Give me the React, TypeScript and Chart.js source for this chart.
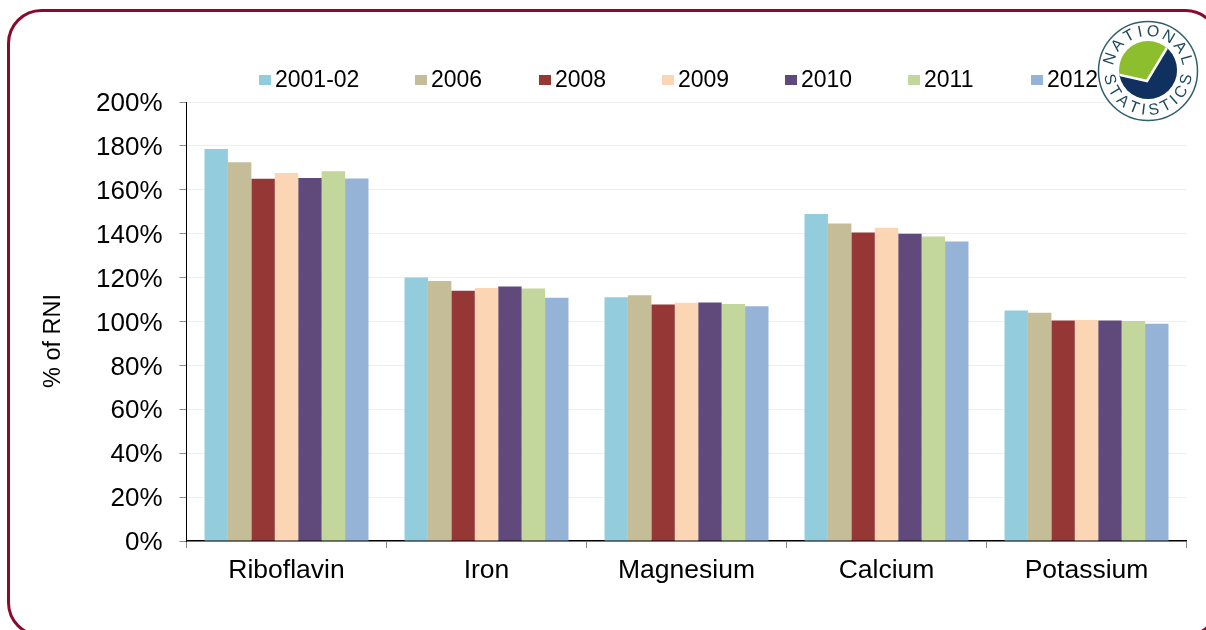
import React, { useEffect, useRef } from "react";
import { Chart, registerables } from "chart.js";

Chart.register(...registerables);

const categories = ["Riboflavin", "Iron", "Magnesium", "Calcium", "Potassium"];
const y2001 = [178.6, 120, 111, 149, 105];
const y2006 = [172.6, 118.5, 112, 144.7, 104];
const y2008 = [165, 114, 107.7, 140.5, 100.5];
const y2009 = [167.7, 115.3, 108.5, 142.7, 100.7];
const y2010 = [165.4, 116, 108.7, 140, 100.5];
const y2011 = [168.5, 115, 108, 138.7, 100.2];
const y2012 = [165.2, 110.8, 107, 136.5, 99];
const seriesLabels = ["2001-02", "2006", "2008", "2009", "2010", "2011", "2012"];
const seriesColors = ["#93CDDD", "#C4BD97", "#953735", "#FCD5B5", "#604A7B", "#C3D69B", "#95B3D7"];
const seriesValues = [y2001, y2006, y2008, y2009, y2010, y2011, y2012];
const legendX = [259, 415, 539, 662, 785, 908, 1031];
const FONT = '"Liberation Sans", Arial, sans-serif';

function arcText(ctx: CanvasRenderingContext2D, text: string, cx: number, cy: number, r: number, mid: number, gap: number, top: boolean) {
  const widths = Array.from(text).map((c) => ctx.measureText(c).width);
  const total = widths.reduce((a, b) => a + b, 0) + gap * (text.length - 1);
  let pos = -total / 2;
  Array.from(text).forEach((c, i) => {
    const off = (pos + widths[i] / 2) / r;
    const a = top ? mid + off : mid - off;
    ctx.save();
    ctx.translate(cx + r * Math.cos(a), cy + r * Math.sin(a));
    ctx.rotate(top ? a + Math.PI / 2 : a - Math.PI / 2);
    ctx.fillText(c, 0, 0);
    ctx.restore();
    pos += widths[i] + gap;
  });
}

const decor = {
  id: "decor",
  beforeDraw(chart: any) {
    const ctx: CanvasRenderingContext2D = chart.ctx;
    ctx.save();
    ctx.fillStyle = "#fff";
    ctx.fillRect(0, 0, chart.width, chart.height);
    ctx.strokeStyle = "#8A0A2E";
    ctx.lineWidth = 3;
    ctx.beginPath();
    ctx.roundRect(8.5, 10.5, 1210, 625, 33);
    ctx.stroke();
    ctx.restore();
  },
  afterDraw(chart: any) {
    const ctx: CanvasRenderingContext2D = chart.ctx;
    ctx.save();
    // legend
    ctx.textBaseline = "middle";
    ctx.textAlign = "left";
    ctx.font = `23px ${FONT}`;
    chart.data.datasets.forEach((d: any, i: number) => {
      ctx.fillStyle = d.backgroundColor;
      ctx.fillRect(legendX[i], 75, 12, 10);
      ctx.fillStyle = "#000";
      ctx.fillText(d.label, legendX[i] + 16, 81);
    });
    // axis title
    ctx.save();
    ctx.translate(54, 341);
    ctx.rotate(-Math.PI / 2);
    ctx.textAlign = "center";
    ctx.font = `23.5px ${FONT}`;
    ctx.fillStyle = "#000";
    ctx.fillText("% of RNI", 0, 0);
    ctx.restore();
    // logo
    const cx = 1148, cy = 71;
    ctx.fillStyle = "#fff";
    ctx.strokeStyle = "#2F5F6F";
    ctx.lineWidth = 1.5;
    ctx.beginPath();
    ctx.arc(cx, cy, 49.5, 0, Math.PI * 2);
    ctx.fill();
    ctx.stroke();
    ctx.save();
    ctx.beginPath();
    ctx.arc(cx, cy - 1, 29, 0, Math.PI * 2);
    ctx.clip();
    ctx.fillStyle = "#8DBE2D";
    ctx.fillRect(cx - 30, cy - 31, 60, 60);
    ctx.fillStyle = "#10305F";
    ctx.beginPath();
    ctx.moveTo(cx - 32, cy + 3);
    ctx.lineTo(cx - 1, cy + 10);
    ctx.lineTo(cx + 20, cy - 25);
    ctx.lineTo(cx + 32, cy - 25);
    ctx.lineTo(cx + 32, cy + 32);
    ctx.lineTo(cx - 32, cy + 32);
    ctx.closePath();
    ctx.fill();
    ctx.strokeStyle = "#fff";
    ctx.lineWidth = 2.5;
    ctx.beginPath();
    ctx.moveTo(cx - 32, cy + 3);
    ctx.lineTo(cx - 1, cy + 10);
    ctx.lineTo(cx + 20, cy - 25);
    ctx.stroke();
    ctx.restore();
    ctx.fillStyle = "#1E4A5C";
    ctx.font = `16px ${FONT}`;
    ctx.textAlign = "center";
    ctx.textBaseline = "middle";
    arcText(ctx, "NATIONAL", cx, cy, 39.5, -Math.PI / 2, 4.4, true);
    arcText(ctx, "STATISTICS", cx, cy, 39.5, Math.PI / 2, 2.8, false);
    ctx.restore();
  },
};

export default function App() {
  const ref = useRef<HTMLCanvasElement>(null);
  useEffect(() => {
    const chart = new Chart(ref.current!, {
      type: "bar",
      data: {
        labels: categories,
        datasets: seriesLabels.map((label, i) => ({
          label,
          data: seriesValues[i],
          backgroundColor: seriesColors[i],
          categoryPercentage: 0.82,
          barPercentage: 1,
        })),
      },
      options: {
        animation: false,
        responsive: false,
        layout: { padding: { left: 0, right: 19.5, top: 102, bottom: 0 } },
        plugins: { legend: { display: false }, tooltip: { enabled: false }, title: { display: false } },
        scales: {
          x: {
            offset: true,
            afterFit: (s: any) => { s.height = 89; },
            border: { color: "#000", width: 1.5 },
            grid: { offset: true, drawOnChartArea: false, drawTicks: true, tickLength: 7, tickColor: "#888" },
            ticks: { color: "#000", font: { family: FONT, size: 26.5 }, padding: 7, maxRotation: 0 },
          },
          y: {
            min: 0,
            max: 200,
            afterFit: (s: any) => { s.width = 186.5; },
            border: { color: "#000", width: 1 },
            grid: { color: "#EEEEEE", tickColor: "#888", tickLength: 7 },
            ticks: { stepSize: 20, color: "#000", font: { family: FONT, size: 26 }, padding: 17, labelOffset: 2, callback: (v: any) => `${v}%` },
          },
        },
      },
      plugins: [decor],
    } as any);
    return () => chart.destroy();
  }, []);
  return (
    <div style={{ position: "absolute", left: 0, top: 0, width: 1206, height: 630, overflow: "hidden" }}>
      <canvas ref={ref} width={1206} height={630} style={{ display: "block" }} />
    </div>
  );
}
